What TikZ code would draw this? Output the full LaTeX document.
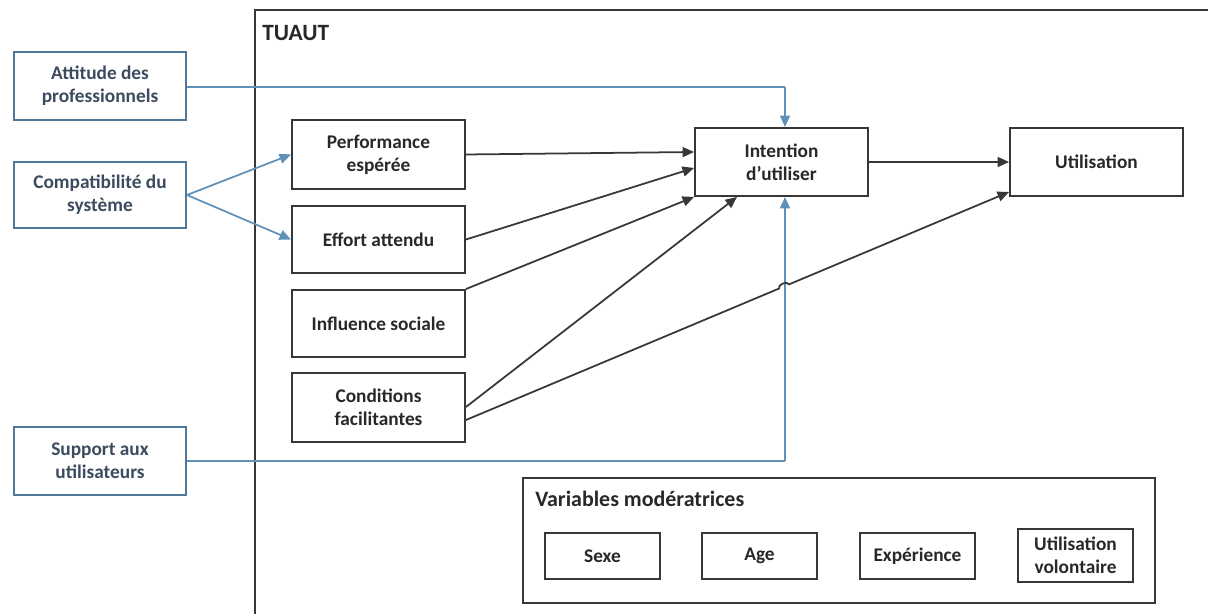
\documentclass[tikz,border=0pt]{standalone}
\usepackage{fontspec}
\setmainfont{Carlito}
\usetikzlibrary{arrows.meta,calc}
\definecolor{bluel}{RGB}{96,145,185}
\definecolor{blueb}{RGB}{80,120,155}
\definecolor{bluet}{RGB}{60,75,95}
\definecolor{darkb}{RGB}{55,55,55}
\definecolor{darkt}{RGB}{40,40,40}
\tikzset{
  bbox/.style={draw=darkb, line width=1.1pt, fill=white, align=center, text=darkt,
    font=\fontsize{11}{13}\selectfont\bfseries, inner sep=0pt},
  bluebox/.style={draw=blueb, line width=1.1pt, fill=white, align=center, text=bluet,
    font=\fontsize{11}{13}\selectfont\bfseries, inner sep=0pt},
  modbox/.style={bbox, minimum width=2.3cm, minimum height=0.92cm},
  blk/.style={draw=darkb, line width=1pt, -{Triangle[length=0.23cm,width=0.2cm]}},
  blu/.style={draw=bluel, line width=1pt, -{Triangle[length=0.23cm,width=0.2cm]}},
  bluline/.style={draw=bluel, line width=1pt},
}
\begin{document}
\begin{tikzpicture}[x=0.02cm,y=-0.02cm]
\useasboundingbox (0,0) rectangle (1208,614);
% outer frame
\draw[darkb, line width=1.1pt] (1212,10) -- (255,10) -- (255,618);
\node[anchor=west, text=darkt, font=\fontsize{13.3}{15}\selectfont\bfseries, inner sep=0pt] (tuaut) at (262,33) {TUAUT};

% blue boxes
\node[bluebox, minimum width=3.44cm, minimum height=1.36cm] (att) at (100,86) {Attitude des\\professionnels};
\node[bluebox, minimum width=3.44cm, minimum height=1.32cm] (comp) at (100,195) {Compatibilité du\\système};
\node[bluebox, minimum width=3.44cm, minimum height=1.36cm] (supp) at (100,461) {Support aux\\utilisateurs};

% main boxes
\node[bbox, minimum width=3.46cm, minimum height=1.38cm] (perf) at (378.5,154.5) {Performance\\espérée};
\node[bbox, minimum width=3.46cm, minimum height=1.34cm] (eff) at (378.5,239.5) {Effort attendu};
\node[bbox, minimum width=3.46cm, minimum height=1.34cm] (infl) at (378.5,323.5) {Influence sociale};
\node[bbox, minimum width=3.46cm, minimum height=1.38cm] (cond) at (378.5,407.5) {Conditions\\facilitantes};
\node[bbox, minimum width=3.46cm, minimum height=1.36cm] (int) at (781.5,162) {Intention\\d’utiliser};
\node[bbox, minimum width=3.46cm, minimum height=1.36cm] (util) at (1096.5,162) {Utilisation};

% moderators
\node[draw=darkb, line width=1.1pt, minimum width=12.64cm, minimum height=2.5cm, inner sep=0pt] (mod) at (839,540.5) {};
\node[anchor=west, text=darkt, font=\fontsize{12.5}{15}\selectfont\bfseries, inner sep=0pt] (modt) at (535,499) {Variables modératrices};
\node[modbox] (sexe) at (602.5,556) {Sexe};
\node[modbox] (age) at (759.5,556) {Age};
\node[modbox] (exp) at (917.5,556) {Expérience};
\node[modbox, minimum height=1.06cm] (vol) at (1075.5,555.5) {Utilisation\\volontaire};

% blue connectors
\coordinate (attc) at (785,87);
\draw[bluline] (att.east |- attc) -- (attc);
\draw[blu] (attc) -- (int.north -| attc);
\coordinate (suppc) at (785,461);
\draw[bluline] (supp.east) -- (suppc);
\draw[blu] (suppc) -- (int.south -| suppc);
\draw[blu] (comp.east) -- (perf.west);
\draw[blu] (comp.east) -- (eff.west);

% black connectors
\draw[blk] (perf.east) -- (int.west |- 0,152);
\draw[blk] (eff.east) -- (int.west |- 0,168);
\draw[blk] (infl.north east) -- (int.south west);
\coordinate (c1) at (cond.east |- 0,407);
\coordinate (c2) at (cond.east |- 0,420);
\draw[blk] (c1) -- (int.south west -| 737,0);
\coordinate (u1) at (util.west |- 0,192);
\draw[blk] (c2) -- ($(c2)!0.5764!(u1)$) to[bend left=90] ($(c2)!0.5948!(u1)$) -- (u1);
\draw[blk] (int.east) -- (util.west);
\end{tikzpicture}
\end{document}
